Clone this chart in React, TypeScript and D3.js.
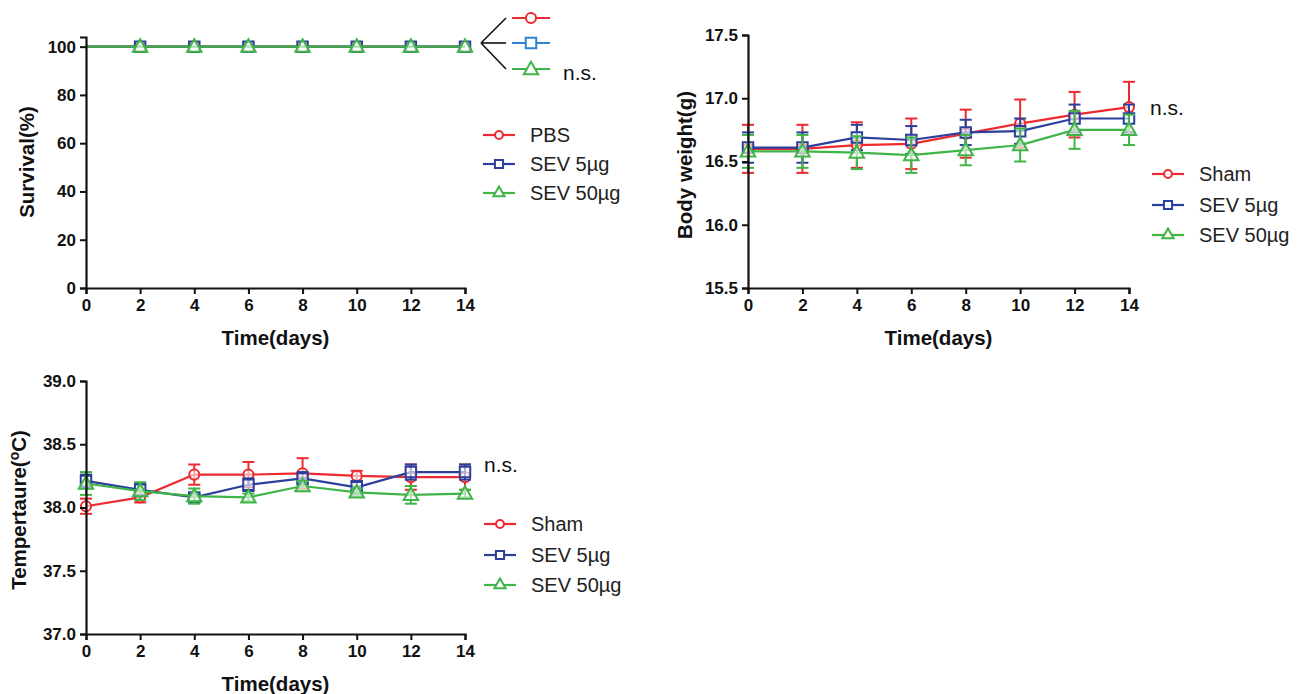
import { useEffect, useRef } from 'react';
import * as d3 from 'd3';

const days = [0, 2, 4, 6, 8, 10, 12, 14];

// survival (%)
const survivalPBS = [100, 100, 100, 100, 100, 100, 100, 100];
const survivalSev5 = [100, 100, 100, 100, 100, 100, 100, 100];
const survivalSev50 = [100, 100, 100, 100, 100, 100, 100, 100];

// body weight (g), mean and error
const weightSham = [16.6, 16.6, 16.63, 16.64, 16.72, 16.8, 16.87, 16.93];
const weightShamErr = [0.19, 0.19, 0.18, 0.2, 0.19, 0.19, 0.18, 0.2];
const weightSev5 = [16.61, 16.61, 16.69, 16.67, 16.73, 16.74, 16.84, 16.84];
const weightSev5Err = [0.12, 0.12, 0.1, 0.11, 0.1, 0.1, 0.11, 0.11];
const weightSev50 = [16.58, 16.58, 16.57, 16.55, 16.59, 16.63, 16.75, 16.75];
const weightSev50Err = [0.13, 0.13, 0.13, 0.14, 0.12, 0.13, 0.15, 0.12];

// temperature (°C), mean and error
const tempSham = [38.01, 38.08, 38.26, 38.26, 38.27, 38.25, 38.24, 38.24];
const tempShamErr = [0.06, 0.04, 0.08, 0.1, 0.12, 0.04, 0.1, 0.1];
const tempSev5 = [38.21, 38.14, 38.08, 38.18, 38.23, 38.16, 38.28, 38.28];
const tempSev5Err = [0.05, 0.05, 0.03, 0.05, 0.05, 0.05, 0.06, 0.06];
const tempSev50 = [38.19, 38.13, 38.09, 38.08, 38.17, 38.12, 38.1, 38.11];
const tempSev50Err = [0.09, 0.07, 0.06, 0.03, 0.04, 0.03, 0.07, 0.03];

const survivalNames = ['PBS', 'SEV 5µg', 'SEV 50µg'];
const groupNames = ['Sham', 'SEV 5µg', 'SEV 50µg'];
const xTicks = [0, 2, 4, 6, 8, 10, 12, 14];

const RED = '#ec2a30';
const BLUE = '#2c3f9c';
const GREEN = '#3fb548';
const LIGHT_BLUE = '#2f82cf';
const FONT = '"Liberation Sans", Arial, sans-serif';

const symbols = [d3.symbolCircle, d3.symbolSquare, d3.symbolTriangle];
const symbolSizes = [80, 110, 90];
const colors = [RED, BLUE, GREEN];

function drawPanel(root, cfg) {
  const g = root.append('g');
  const x = d3.scaleLinear().domain([0, 14]).range(cfg.xRange);
  const y = d3.scaleLinear().domain(cfg.yDomain).range(cfg.yRange);

  // series
  cfg.series.forEach((s, i) => {
    const line = d3
      .line()
      .x((d) => x(d[0]))
      .y((d) => y(d[1]));
    const pts = days.map((d, j) => [d, s.values[j]]);
    const sg = g.append('g');
    if (s.errors) {
      s.errors.forEach((e, j) => {
        const cx = x(days[j]);
        sg.append('line')
          .attr('x1', cx).attr('x2', cx)
          .attr('y1', y(s.values[j] - e)).attr('y2', y(s.values[j] + e))
          .attr('stroke', colors[i]).attr('stroke-width', 2);
        [s.values[j] - e, s.values[j] + e].forEach((v) => {
          sg.append('line')
            .attr('x1', cx - 6).attr('x2', cx + 6)
            .attr('y1', y(v)).attr('y2', y(v))
            .attr('stroke', colors[i]).attr('stroke-width', 2);
        });
      });
    }
    sg.append('path')
      .attr('d', line(pts))
      .attr('fill', 'none')
      .attr('stroke', colors[i])
      .attr('stroke-width', 2.2);
    pts.forEach((p) => {
      if (p[0] < cfg.markerFrom) return;
      sg.append('path')
        .attr('d', d3.symbol(symbols[i], symbolSizes[i])())
        .attr('transform', `translate(${x(p[0])},${y(p[1]) + (i === 2 ? 1 : 0)})`)
        .attr('fill', 'white')
        .attr('fill-opacity', 0.6)
        .attr('stroke', colors[i])
        .attr('stroke-width', 2);
    });
  });

  // axes
  const yAxis = d3
    .axisLeft(y)
    .tickValues(cfg.yTicks)
    .tickFormat(cfg.tickFormat)
    .tickSizeOuter(0)
    .tickSize(6)
    .tickPadding(4);
  const xAxis = d3
    .axisBottom(x)
    .tickValues(xTicks)
    .tickSizeOuter(0)
    .tickSize(6)
    .tickPadding(5);

  const ya = g.append('g').attr('transform', `translate(${cfg.xRange[0]},0)`).call(yAxis);
  const xa = g.append('g').attr('transform', `translate(0,${cfg.yRange[0]})`).call(xAxis);
  [ya, xa].forEach((a) => {
    a.select('.domain').attr('stroke', '#111').attr('stroke-width', 2.2);
    a.selectAll('.tick line').attr('stroke', '#111').attr('stroke-width', 2);
    a.selectAll('.tick text')
      .attr('font-family', FONT)
      .attr('font-weight', 'bold')
      .attr('font-size', 17)
      .attr('fill', '#111');
  });

  // axis titles
  g.append('text')
    .attr('x', (cfg.xRange[0] + cfg.xRange[1]) / 2)
    .attr('y', cfg.yRange[0] + 57)
    .attr('text-anchor', 'middle')
    .attr('font-family', FONT)
    .attr('font-weight', 'bold')
    .attr('font-size', 20.5)
    .attr('fill', '#111')
    .text('Time(days)');

  const yl = g.append('text')
    .attr('transform', `translate(${cfg.yLabelX},${cfg.yLabelY}) rotate(-90)`)
    .attr('text-anchor', 'middle')
    .attr('font-family', FONT)
    .attr('font-weight', 'bold')
    .attr('font-size', 20.5)
    .attr('fill', '#111');
  if (cfg.yLabelSup) {
    yl.append('tspan').text(cfg.yLabel[0]);
    yl.append('tspan').attr('dy', -7).attr('font-size', 14).text(cfg.yLabelSup);
    yl.append('tspan').attr('dy', 7).text(cfg.yLabel[1]);
  } else {
    yl.text(cfg.yLabel);
  }

  // legend
  cfg.names.forEach((name, i) => {
    const ly = cfg.legendY[i];
    const lg = g.append('g');
    lg.append('line')
      .attr('x1', cfg.legendX).attr('x2', cfg.legendX + 32)
      .attr('y1', ly).attr('y2', ly)
      .attr('stroke', colors[i]).attr('stroke-width', 2.2);
    lg.append('path')
      .attr('d', d3.symbol(symbols[i], symbolSizes[i] * 0.6)())
      .attr('transform', `translate(${cfg.legendX + 16},${ly})`)
      .attr('fill', 'white')
      .attr('stroke', colors[i])
      .attr('stroke-width', 2);
    lg.append('text')
      .attr('x', cfg.legendX + 47)
      .attr('y', ly + 7)
      .attr('font-family', FONT)
      .attr('font-size', 20)
      .attr('fill', '#222')
      .text(name);
  });

  if (cfg.ns) {
    g.append('text')
      .attr('x', cfg.ns[0])
      .attr('y', cfg.ns[1])
      .attr('font-family', FONT)
      .attr('font-size', 21)
      .attr('fill', '#111')
      .text('n.s.');
  }
  return { x, y };
}

const App = () => {
  const svgRef = useRef(null);

  useEffect(() => {
    const svg = d3.select(svgRef.current);
    svg.selectAll('*').remove();

    // survival panel
    drawPanel(svg, {
      xRange: [86, 465],
      yDomain: [0, 104],
      yRange: [288, 37],
      yTicks: [0, 20, 40, 60, 80, 100],
      tickFormat: d3.format('d'),
      yLabel: 'Survival(%)',
      yLabelX: 34,
      yLabelY: 162,
      series: [
        { values: survivalPBS },
        { values: survivalSev5 },
        { values: survivalSev50 },
      ],
      markerFrom: 1,
      names: survivalNames,
      legendX: 483,
      legendY: [135, 164, 193],
    });

    // bracket legend next to survival curves
    const bg = svg.append('g');
    const bx0 = 481;
    const bx1 = 506;
    const brY = [18, 43, 69];
    brY.forEach((by) => {
      bg.append('line')
        .attr('x1', bx0).attr('y1', 43).attr('x2', bx1).attr('y2', by)
        .attr('stroke', '#111').attr('stroke-width', 1.6);
    });
    const bColors = [RED, LIGHT_BLUE, GREEN];
    brY.forEach((by, i) => {
      bg.append('line')
        .attr('x1', 512).attr('x2', 550)
        .attr('y1', by).attr('y2', by)
        .attr('stroke', bColors[i]).attr('stroke-width', 2.2);
      bg.append('path')
        .attr('d', d3.symbol(symbols[i], symbolSizes[i])())
        .attr('transform', `translate(531,${by + (i === 2 ? 1 : 0)})`)
        .attr('fill', 'white')
        .attr('stroke', bColors[i])
        .attr('stroke-width', 2);
    });
    bg.append('text')
      .attr('x', 563)
      .attr('y', 80)
      .attr('font-family', FONT)
      .attr('font-size', 21)
      .attr('fill', '#111')
      .text('n.s.');

    // body weight panel
    drawPanel(svg, {
      xRange: [748, 1129],
      yDomain: [15.5, 17.5],
      yRange: [288, 35],
      yTicks: [15.5, 16.0, 16.5, 17.0, 17.5],
      tickFormat: d3.format('.1f'),
      yLabel: 'Body weight(g)',
      yLabelX: 692,
      yLabelY: 165,
      series: [
        { values: weightSham, errors: weightShamErr },
        { values: weightSev5, errors: weightSev5Err },
        { values: weightSev50, errors: weightSev50Err },
      ],
      markerFrom: 0,
      names: groupNames,
      legendX: 1152,
      legendY: [174, 205, 235],
      ns: [1150, 115],
    });

    // temperature panel
    drawPanel(svg, {
      xRange: [86, 465],
      yDomain: [37, 39],
      yRange: [634, 381],
      yTicks: [37.0, 37.5, 38.0, 38.5, 39.0],
      tickFormat: d3.format('.1f'),
      yLabel: ['Tempertaure(', 'C)'],
      yLabelSup: 'o',
      yLabelX: 26,
      yLabelY: 510,
      series: [
        { values: tempSham, errors: tempShamErr },
        { values: tempSev5, errors: tempSev5Err },
        { values: tempSev50, errors: tempSev50Err },
      ],
      markerFrom: 0,
      names: groupNames,
      legendX: 484,
      legendY: [524, 555, 585],
      ns: [484, 472],
    });
  }, []);

  return (
    <svg
      ref={svgRef}
      width={1298}
      height={694}
      style={{ position: 'absolute', left: 0, top: 0, background: 'white' }}
    />
  );
};

export default App;
